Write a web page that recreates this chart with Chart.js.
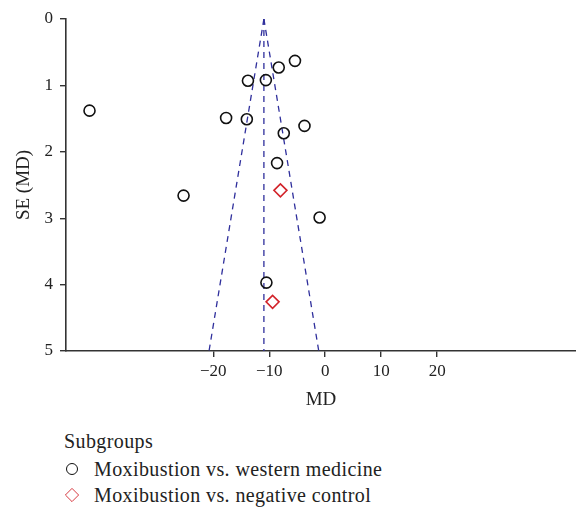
<!DOCTYPE html>
<html>
<head>
<meta charset="utf-8">
<script src="https://cdn.jsdelivr.net/npm/chart.js@4"></script>
<style>
  html, body { margin: 0; padding: 0; background: #fff; }
  #wrap { position: relative; width: 576px; height: 509px; }
  #chartBox { position: absolute; left: 0; top: 0; width: 576px; height: 415px; }
  #legend { position: absolute; left: 64px; top: 426px; font-family: "Liberation Serif", serif; font-size: 20px; letter-spacing: 0.4px; color: #222; }
  #legend .row { display: flex; align-items: center; height: 26px; }
  #legend .title { height: 30px; }
  #legend .mark { width: 12px; height: 12px; margin: 0 16px 0 2px; box-sizing: border-box; }
</style>
</head>
<body>
<div id="wrap">
  <div id="chartBox"><canvas id="funnel"></canvas></div>
  <div id="legend"></div>
</div>
<script>
const legendTitle = "Subgroups";
const groupNames = ["Moxibustion vs. western medicine", "Moxibustion vs. negative control"];

// Moxibustion vs. western medicine
const westernMD = [-42.1, -17.7, -14.0, -13.8, -10.6, -8.3, -5.4, -7.4, -8.6, -3.7, -25.3, -1.0, -10.5];
const westernSE = [1.38, 1.49, 1.51, 0.93, 0.92, 0.73, 0.63, 1.72, 2.17, 1.61, 2.66, 2.99, 3.97];

// Moxibustion vs. negative control
const negativeMD = [-8.0, -9.4];
const negativeSE = [2.58, 4.26];

const pooledMD = -10.95;
const seRange = [0, 5];
const xTicks = [-20, -10, 0, 10, 20];
const yTicks = [0, 1, 2, 3, 4, 5];

const funnelColor = "#2f2f9c";
const axisColor = "#333";
const serif = "'Liberation Serif', serif";

const toPoints = (xs, ys) => xs.map((x, i) => ({ x: x, y: ys[i] }));
const funnelEdge = (side) => seRange.map(se => ({ x: pooledMD + side * 1.96 * se, y: se }));

const dashedLine = (data) => ({
  type: "line",
  data: data,
  borderColor: funnelColor,
  borderWidth: 1.3,
  borderDash: [6, 5],
  pointRadius: 0,
  fill: false,
  showLine: true,
  order: 2
});

new Chart(document.getElementById("funnel"), {
  type: "scatter",
  data: {
    datasets: [
      dashedLine(funnelEdge(-1)),
      dashedLine(funnelEdge(1)),
      dashedLine(funnelEdge(0)),
      {
        label: groupNames[0],
        data: toPoints(westernMD, westernSE),
        pointStyle: "circle",
        pointRadius: 5.5,
        pointBorderWidth: 1.6,
        borderColor: "#111",
        backgroundColor: "rgba(255,255,255,0)",
        order: 1
      },
      {
        label: groupNames[1],
        data: toPoints(negativeMD, negativeSE),
        pointStyle: "rectRot",
        pointRadius: 6.5,
        pointBorderWidth: 1.6,
        borderColor: "#d2232a",
        backgroundColor: "rgba(255,255,255,0)",
        order: 1
      }
    ]
  },
  options: {
    responsive: true,
    maintainAspectRatio: false,
    animation: false,
    layout: { autoPadding: false, padding: { top: 19, right: 0, left: 0, bottom: 0 } },
    plugins: { legend: { display: false }, tooltip: { enabled: false } },
    scales: {
      x: {
        type: "linear",
        min: -46.3,
        max: 44.8,
        afterBuildTicks: s => { s.ticks = xTicks.map(v => ({ value: v })); },
        afterFit: s => { s.height = 64; s.paddingLeft = 0; s.paddingRight = 0; },
        border: { display: true, color: axisColor, width: 1.6 },
        grid: { drawOnChartArea: false, drawTicks: true, tickLength: 6, color: axisColor, lineWidth: 1.4 },
        ticks: {
          color: "#222",
          font: { family: serif, size: 17 },
          padding: 4,
          callback: v => String(v).replace("-", "\u2212")
        },
        title: { display: true, text: "MD", color: "#222", font: { family: serif, size: 19 }, padding: { top: 2 } }
      },
      y: {
        type: "linear",
        reverse: true,
        min: 0,
        max: 5,
        afterBuildTicks: s => { s.ticks = yTicks.map(v => ({ value: v })); },
        afterFit: s => { s.width = 66; },
        border: { display: true, color: axisColor, width: 1.6 },
        grid: { drawOnChartArea: false, drawTicks: true, tickLength: 6, color: axisColor, lineWidth: 1.4 },
        ticks: { color: "#222", font: { family: serif, size: 17 }, padding: 7 },
        title: { display: true, text: "SE (MD)", color: "#222", font: { family: serif, size: 19 }, padding: { top: 13, bottom: 0 } }
      }
    }
  }
});

// legend below the plot, built from the group names
const legendEl = document.getElementById("legend");
const titleRow = document.createElement("div");
titleRow.className = "row title";
titleRow.textContent = legendTitle;
legendEl.appendChild(titleRow);
const markStyles = [
  "border:1.6px solid #111;border-radius:50%;",
  "border:1.6px solid #d2232a;transform:rotate(45deg) scale(0.85);"
];
groupNames.forEach((name, i) => {
  const row = document.createElement("div");
  row.className = "row";
  const mark = document.createElement("span");
  mark.className = "mark";
  mark.style.cssText = markStyles[i];
  const txt = document.createElement("span");
  txt.textContent = name;
  row.appendChild(mark);
  row.appendChild(txt);
  legendEl.appendChild(row);
});
</script>
</body>
</html>
